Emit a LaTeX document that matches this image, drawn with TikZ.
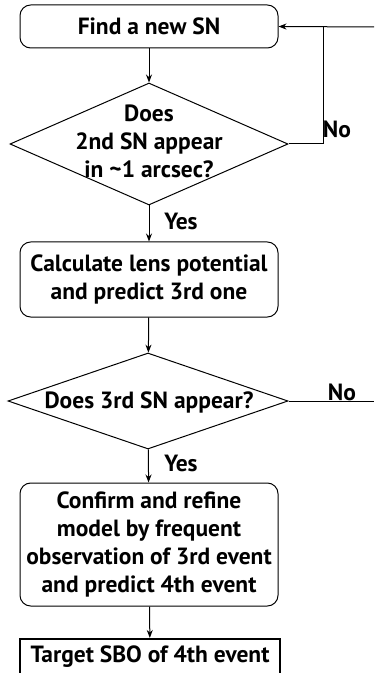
\documentclass[tikz,border=0pt]{standalone}
\usepackage{fontspec}
\setmainfont{PT Sans}
\usetikzlibrary{shapes.geometric,arrows.meta}
\begin{document}
\begin{tikzpicture}
 [x=0.75pt,y=-0.75pt,line width=0.75pt,>={Stealth[length=6pt,width=4.5pt]},
  every node/.style={font=\bfseries\fontsize{17.6}{21}\selectfont,align=center,inner sep=0pt},
  stepbox/.style={draw,rounded corners=8pt,minimum width=193.5pt},
  decision/.style={draw,diamond},
  target/.style={draw,line width=1.6pt,minimum width=195pt,minimum height=27pt}]
  \useasboundingbox (0,0) rectangle (374,673);

  \node[stepbox,minimum height=32.25pt] (find) at (149,26.5) {Find a new SN};
  \node[decision,minimum width=208.5pt,minimum height=91.5pt] (q2nd) at (149,144) {};
  \node (q2ndtext) at (149,141) {Does\\2nd SN appear\\in \textasciitilde1 arcsec?};
  \node[stepbox,minimum height=56.25pt] (calc) at (149,279.5) {Calculate lens potential\\and predict 3rd one};
  \node[decision,minimum width=210pt,minimum height=72pt] (q3rd) at (148,401) {};
  \node (q3rdtext) at (149,402) {Does 3rd SN appear?};
  \node[stepbox,minimum height=92.25pt] (refine) at (149,544.5) {Confirm and refine\\model by frequent\\observation of 3rd event\\and predict 4th event};
  \node[target] (sbo) at (150,657) {Target SBO of 4th event};

  \node (yes1) at (181,221) {Yes};
  \node (yes2) at (181,463) {Yes};
  \node (no1) at (337,129) {No};
  \node (no2) at (342,392) {No};

  \coordinate (turn) at (323,27);
  \coordinate (edge1) at (374,27);
  \coordinate (edge2) at (374,401);

  \foreach \from/\to in {find/q2nd,q2nd/calc,calc/q3rd,q3rd/refine,refine/sbo}
    \draw[->] (\from) -- (\to);
  \draw (q2nd.east) -| (turn);
  \draw[->] (edge1) -- (find.east);
  \draw (q3rd.east) -- (edge2);
\end{tikzpicture}
\end{document}
